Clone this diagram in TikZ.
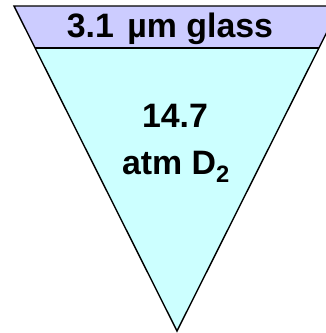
\documentclass[tikz,border=0pt]{standalone}
\usepackage{fontspec}
\setmainfont{Liberation Sans}
\usetikzlibrary{calc}
\definecolor{glass}{HTML}{CCCCFF}
\definecolor{gas}{HTML}{CCFFFF}
\tikzset{
  shell/.style={draw=black,line width=1.4bp,line join=miter},
  lab/.style={font=\fontsize{34}{38}\selectfont\bfseries,inner sep=0pt,anchor=base},
}
\begin{document}
\begin{tikzpicture}[x=1bp,y=-1bp]
\useasboundingbox (0,0) rectangle (326,333);
\clip (0,0) rectangle (326,333);
% cone: glass cap over the gas fill
\coordinate (tl) at (14,6);
\coordinate (tr) at (340,6);
\coordinate (ap) at (177,331);
\coordinate (bl) at ($(tl)!0.1292!(ap)$);
\coordinate (br) at ($(tr)!0.1292!(ap)$);
\fill[gas] (bl) -- (br) -- (ap) -- cycle;
\fill[glass] (tl) -- (tr) -- (br) -- (bl) -- cycle;
\draw[shell] (bl) -- (br);
\draw[shell] (tl) -- (tr) -- (ap) -- cycle;
\node[lab] (cap) at (170,37) {3.1\hspace{0.12em} µm glass};
\node[lab] (pres) at (175,127) {14.7};
\node[lab] (fuel) at (176,174) {atm D\textsubscript{2}};
\end{tikzpicture}
\end{document}
